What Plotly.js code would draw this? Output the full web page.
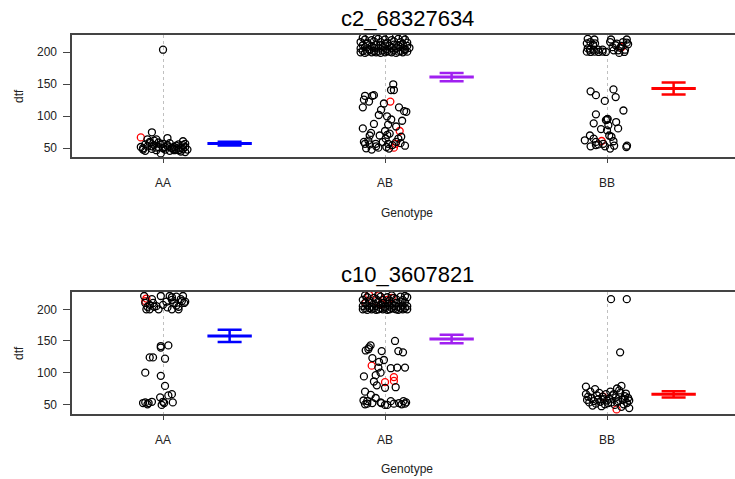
<!DOCTYPE html>
<html>
<head>
<meta charset="utf-8">
<script src="https://cdn.plot.ly/plotly-3.0.1.min.js"></script>
<style>
html,body{margin:0;padding:0;overflow:hidden;background:#fff;}
#chart{width:742px;height:479px;}
</style>
</head>
<body>
<div id="chart"></div>
<script>
// ---------- categories ----------
const genotypes = ["AA", "AB", "BB"];
const titles = ["c2_68327634", "c10_3607821"];
const yTicks = [50, 100, 150, 200];

// ---------- panel 1 (c2_68327634): jitter offsets (dx) and dtf values ----------
const p1_AA_dx = [0.00,-0.05,-0.07,-0.03,0.02,0.09,-0.10,-0.09,0.10,-0.01,-0.08,-0.06,-0.04,-0.02,0.00,0.02,0.04,0.06,0.08,0.10,-0.09,-0.07,-0.05,-0.03,-0.01,0.01,0.03,0.05,0.07,0.09,-0.06,-0.04,-0.02,0.00,0.03,0.05,0.07,0.09,0.11,0.08,-0.08,0.04,0.06,0.01,-0.03,0.10,0.07,0.02,-0.05,0.05];
const p1_AA_y  = [204,75,64,64,66,61,52,48,44,42,56,58,55,52,50,53,51,54,50,52,50,53,49,47,56,48,46,49,47,55,60,62,59,57,58,52,56,49,48,45,46,50,48,52,51,57,51,55,53,47];
const p1_AA_rdx = [-0.10];
const p1_AA_ry  = [67];

const p1_AB_dx = [-0.11,-0.10,-0.09,-0.08,-0.07,-0.06,-0.05,-0.04,-0.03,-0.02,-0.01,0.00,0.01,0.02,0.03,0.04,0.05,0.06,0.07,0.08,0.09,0.10,
  -0.11,-0.09,-0.07,-0.05,-0.03,-0.01,0.01,0.03,0.05,0.07,0.09,0.11,
  -0.10,-0.08,-0.06,-0.04,-0.02,0.00,0.02,0.04,0.06,0.08,0.10,
  -0.11,-0.08,-0.05,-0.02,0.01,0.04,0.07,0.10,
  -0.09,-0.06,-0.03,0.00,0.03,0.06,0.09,
  -0.10,-0.04,0.02,0.08,
  0.037,0.027,0.040,-0.090,-0.057,-0.050,-0.095,-0.072,-0.100,-0.005,-0.018,0.063,0.086,0.096,-0.028,0.009,0.028,0.077,0.014,-0.100,-0.063,-0.069,-0.024,0.010,0.021,0.073,-0.075,0.003,0.060,-0.042,-0.069,0.014,0.033,0.090,0.006,-0.030,0.018,
  -0.090,-0.095,-0.085,-0.060,-0.040,0.050,0.070,-0.010,0.000,-0.050,0.050];
const p1_AB_y = [200,202,199,201,203,200,202,200,201,199,203,200,202,201,200,203,199,201,202,200,203,201,
  206,208,205,207,206,208,205,207,206,208,205,207,
  211,213,210,212,211,213,210,212,211,213,210,
  216,215,217,216,215,217,216,215,
  220,219,221,220,219,221,220,
  223,222,224,223,
  150,141,141,132,132,133,126,123,114,120,110,114,108,107,102,100,95,93,87,81,74,70,70,71,73,68,62,65,65,57,56,57,55,54,52,51,49.5,
  57,60,50,48,53,60,58,60,77,88,84];
const p1_AB_rdx = [0.024,0.066,0.048,0.040];
const p1_AB_ry  = [123,77,57,51];

const p1_BB_dx = [-0.087,-0.057,0.018,0.089,-0.091,-0.054,0.039,0.089,-0.075,-0.063,-0.087,-0.077,-0.060,-0.040,-0.020,-0.091,-0.074,-0.056,-0.038,-0.020,-0.005,0.014,0.044,0.072,0.095,0.025,0.060,0.081,0.050,0.030,0.078,0.055,0.065,
  -0.074,-0.050,0.029,0.039,-0.010,0.074,-0.050,0.003,0.000,-0.005,0.041,-0.060,0.006,-0.027,0.050,0.000,0.010,0.020,-0.077,-0.100,-0.060,-0.050,0.029,-0.039,-0.017,-0.074,-0.009,0.032,0.014,0.090,0.087,-0.050];
const p1_BB_y = [221,220,220,220,214,214,211,215,216,212,206,204,204,204,204,201,200.5,201,200.5,201,200.5,216,213.5,216,212.5,208,207,204,203,203,200.5,199,210,
  139,133,142,130,124,109,103,96,95,94,91,89,86,80,81,78,70,68,70,62.5,65,60,61,56,57,53,53,54,49.5,54,52,55];
const p1_BB_rdx = [0.066,-0.024];
const p1_BB_ry  = [208,61.4];

const p1_mean = [57.3, 161.2, 143.3];
const p1_se   = [3.0, 6.5, 9.3];

// ---------- panel 2 (c10_3607821) ----------
const p2_AA_dx = [-0.085,-0.050,-0.010,0.030,0.090,0.040,0.060,-0.080,-0.070,-0.060,-0.075,-0.060,-0.040,-0.020,0.000,0.015,0.040,0.080,0.095,0.070,0.040,0.070,0.085,0.050,0.100,-0.030,0.020,0.060,-0.045,
  -0.010,0.024,-0.010,-0.060,-0.045,0.009,-0.080,-0.010,0.009,-0.013,0.024,0.040,-0.080,-0.065,-0.050,0.044,0.000,-0.006,-0.090,0.005,-0.070];
const p2_AA_y = [221,216,221,221,221,219,220,210,204,207,200,200,204,200,207,212,215,216,210,204,200,200,213,210,212,205,203,206,210,
  142,143,139.5,124,124,122,100,95,79,61,64,66,53,52,54,53,54,49,52,52,50];
const p2_AA_rdx = [-0.075,-0.080];
const p2_AA_ry  = [217,213];

const p2_AB_dx = [-0.10,-0.09,-0.08,-0.07,-0.06,-0.05,-0.04,-0.03,-0.02,-0.01,0.00,0.01,0.02,0.03,0.04,0.05,0.06,0.07,0.08,0.09,0.10,
  -0.10,-0.08,-0.06,-0.04,-0.02,0.00,0.02,0.04,0.06,0.08,0.10,
  -0.09,-0.07,-0.05,-0.03,-0.01,0.01,0.03,0.05,0.07,0.09,
  -0.10,-0.07,-0.04,-0.01,0.02,0.05,0.08,
  -0.08,-0.05,-0.02,0.01,0.04,0.07,0.10,
  -0.09,-0.03,0.03,0.09,
  0.045,-0.072,-0.087,-0.015,0.060,0.081,-0.057,-0.005,-0.027,-0.030,0.026,0.055,0.090,-0.095,-0.042,-0.020,-0.050,-0.037,0.048,0.000,-0.090,-0.064,-0.042,-0.097,-0.080,-0.090,-0.057,-0.017,0.000,0.010,0.026,0.040,0.063,0.083,0.090,0.075,-0.075,-0.065,-0.080,-0.020,0.095];
const p2_AB_y = [200,201,199,202,200,201,199,200,202,200,201,199,200,202,201,200,199,201,200,202,200,
  205,206,204,205,207,204,206,205,204,206,205,
  210,211,209,212,210,211,209,210,212,211,
  215,214,216,215,214,216,215,
  219,218,220,219,218,220,219,
  222,223,222,221,
  150,140,135,134,134,132,123,120,117,108,107,108,108,94,96,100,86,80,77,76,70,65,60,56,51,50,52,52,49,49,55,51,52,55,51,50,137,143,55,53,53];
const p2_AB_rdx = [-0.087,-0.072,-0.042,-0.027,-0.017,0.010,0.030,-0.060,0.040,0.040,0.000];
const p2_AB_ry  = [210,223,213,222,208,215,218,111,93,87,85];

const p2_BB_dx = [0.018,0.089,0.059,-0.095,-0.054,0.065,-0.095,0.100,
  -0.090,-0.080,-0.070,-0.060,-0.050,-0.040,-0.030,-0.020,-0.010,0.000,0.010,0.020,0.030,0.040,0.050,0.060,0.070,0.080,0.090,0.095,-0.085,-0.065,-0.045,-0.025,-0.005,0.015,0.035,0.055,0.075,0.085,0.100,-0.075,0.045,0.025,-0.035,0.065,-0.015,0.005,0.045,0.080];
const p2_BB_y = [216,216,132,78,74,79,66,44,
  57,53,60,55,51,58,54,62,50,56,59,53,66,61,55,68,57,63,52,60,62,48,64,47,66,70,49,72,50,67,56,70,75,64,68,46,58,52,53,58];
const p2_BB_rdx = [-0.018,0.043];
const p2_BB_ry  = [62,42];

const p2_mean = [157.9, 153.1, 65.8];
const p2_se   = [9.7, 6.8, 5.0];

// ---------- styles ----------
const meanColors = ["#0000FF", "#A020F0", "#FF0000"];
const MEAN_OFFSET = 0.3, MEAN_HALF = 0.1;

function pts(dxArr, yArr, catIdx, color, xa, ya) {
  return {
    type: "scatter", mode: "markers", xaxis: xa, yaxis: ya,
    x: dxArr.map(d => catIdx + 1 + d), y: yArr,
    marker: {symbol: "circle-open", size: 7, color: color, line: {width: 1.3, color: color}},
    hoverinfo: "skip", showlegend: false
  };
}

const traces = [];
const panels = [
  {xa: "x", ya: "y", groups: [[p1_AA_dx,p1_AA_y,p1_AA_rdx,p1_AA_ry],[p1_AB_dx,p1_AB_y,p1_AB_rdx,p1_AB_ry],[p1_BB_dx,p1_BB_y,p1_BB_rdx,p1_BB_ry]], mean: p1_mean, se: p1_se},
  {xa: "x2", ya: "y2", groups: [[p2_AA_dx,p2_AA_y,p2_AA_rdx,p2_AA_ry],[p2_AB_dx,p2_AB_y,p2_AB_rdx,p2_AB_ry],[p2_BB_dx,p2_BB_y,p2_BB_rdx,p2_BB_ry]], mean: p2_mean, se: p2_se}
];
panels.forEach(p => {
  p.groups.forEach((g, i) => {
    traces.push(pts(g[2], g[3], i, "#FF0000", p.xa, p.ya));
    traces.push(pts(g[0], g[1], i, "#000000", p.xa, p.ya));
  });
  genotypes.forEach((gname, i) => {
    const cx = i + 1 + MEAN_OFFSET;
    traces.push({
      type: "scatter", mode: "lines", xaxis: p.xa, yaxis: p.ya,
      x: [cx - MEAN_HALF, cx + MEAN_HALF], y: [p.mean[i], p.mean[i]],
      line: {color: meanColors[i], width: 3}, hoverinfo: "skip", showlegend: false
    });
    traces.push({
      type: "scatter", mode: "markers", xaxis: p.xa, yaxis: p.ya,
      x: [cx], y: [p.mean[i]],
      marker: {size: 1, color: meanColors[i], opacity: 0},
      error_y: {type: "data", array: [p.se[i]], visible: true, color: meanColors[i], thickness: 2.5, width: 12},
      hoverinfo: "skip", showlegend: false
    });
  });
});

const H = 479;
const xCommon = {
  range: [0.59, 3.608], tickvals: [1, 2, 3], ticktext: genotypes,
  ticks: "outside", ticklen: 4, tickcolor: "#444", tickwidth: 1,
  ticklabelstandoff: 10,
  showgrid: true, gridcolor: "#c0c0c0", griddash: "dot", gridwidth: 1,
  showline: true, mirror: true, linecolor: "#444", linewidth: 1.6,
  zeroline: false, tickfont: {family: "Liberation Sans, Arial", size: 12, color: "#222"},
  automargin: false, fixedrange: true
};
const yCommon = {
  tickvals: yTicks, ticks: "outside", ticklen: 7, tickcolor: "#444", tickwidth: 1,
  ticklabelstandoff: 4,
  showgrid: false, zeroline: false, showline: true, mirror: false, linecolor: "#444", linewidth: 1.6,
  tickfont: {family: "Liberation Sans, Arial", size: 12, color: "#222"},
  automargin: false, fixedrange: true
};
function py(pix) { return 1 - pix / H; }

const layout = {
  width: 742, height: H,
  margin: {l: 72, r: 0, t: 0, b: 0},
  paper_bgcolor: "#ffffff", plot_bgcolor: "#ffffff",
  showlegend: false,
  xaxis: Object.assign({}, xCommon, {anchor: "y", domain: [0, 1]}),
  yaxis: Object.assign({}, yCommon, {anchor: "x", domain: [py(157.3), py(35)], range: [35.9, 227]}),
  xaxis2: Object.assign({}, xCommon, {anchor: "y2", domain: [0, 1]}),
  yaxis2: Object.assign({}, yCommon, {anchor: "x2", domain: [py(414), py(291.7)], range: [34.7, 227.8]}),
  annotations: [
    {text: titles[0], xref: "paper", yref: "paper", x: 0.5, y: py(18), xanchor: "center", yanchor: "middle", showarrow: false, font: {family: "Liberation Sans, Arial", size: 22, color: "#000"}},
    {text: titles[1], xref: "paper", yref: "paper", x: 0.5, y: py(274), xanchor: "center", yanchor: "middle", showarrow: false, font: {family: "Liberation Sans, Arial", size: 22, color: "#000"}},
    {text: "Genotype", xref: "paper", yref: "paper", x: 0.5, y: py(212.5), xanchor: "center", yanchor: "middle", showarrow: false, font: {family: "Liberation Sans, Arial", size: 12, color: "#222"}},
    {text: "Genotype", xref: "paper", yref: "paper", x: 0.5, y: py(469), xanchor: "center", yanchor: "middle", showarrow: false, font: {family: "Liberation Sans, Arial", size: 12, color: "#222"}},
    {text: "dtf", xref: "paper", yref: "paper", x: (19 - 72) / 670, y: py(96), xanchor: "center", yanchor: "middle", textangle: -90, showarrow: false, font: {family: "Liberation Sans, Arial", size: 12, color: "#222"}},
    {text: "dtf", xref: "paper", yref: "paper", x: (19 - 72) / 670, y: py(353), xanchor: "center", yanchor: "middle", textangle: -90, showarrow: false, font: {family: "Liberation Sans, Arial", size: 12, color: "#222"}}
  ]
};

Plotly.newPlot("chart", traces, layout, {staticPlot: true, displayModeBar: false});
</script>
</body>
</html>
